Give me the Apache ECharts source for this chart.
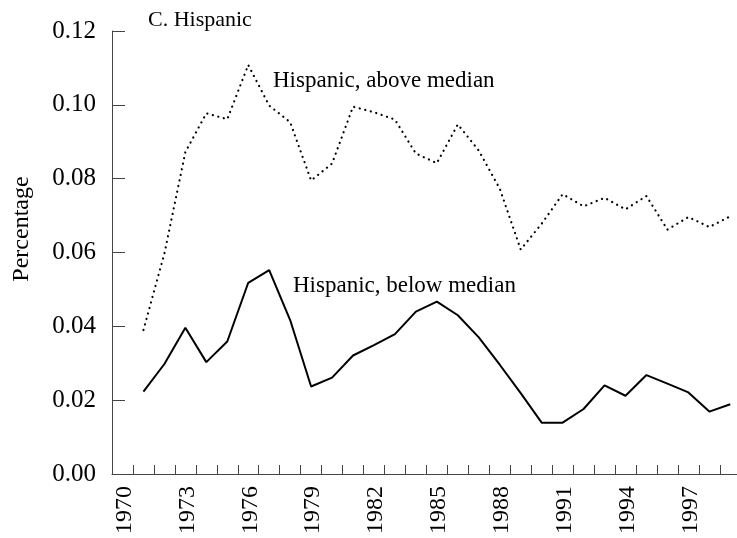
<!DOCTYPE html>
<html>
<head>
    <meta charset="utf-8">
    <title>C. Hispanic</title>
    <script src="https://cdn.jsdelivr.net/npm/echarts@6/dist/echarts.min.js"></script>
    <style>
        html, body { margin: 0; padding: 0; background: #fff; }
        #chart { width: 737px; height: 538px; }
    </style>
</head>
<body>
<div id="chart"></div>
<script type="text/javascript">
    // years (points sit in the middle of each year)
    var years = [1970, 1971, 1972, 1973, 1974, 1975, 1976, 1977, 1978, 1979,
                 1980, 1981, 1982, 1983, 1984, 1985, 1986, 1987, 1988, 1989,
                 1990, 1991, 1992, 1993, 1994, 1995, 1996, 1997, 1998];
    var aboveMedian = [0.0390, 0.0597, 0.0872, 0.0977, 0.0961, 0.1108, 0.0998, 0.0953, 0.0795, 0.0841,
                       0.0995, 0.0980, 0.0960, 0.0868, 0.0842, 0.0947, 0.0876, 0.0773, 0.0608, 0.0678,
                       0.0758, 0.0725, 0.0748, 0.0717, 0.0753, 0.0662, 0.0696, 0.0669, 0.0698];
    var belowMedian = [0.0223, 0.0298, 0.0396, 0.0303, 0.0359, 0.0518, 0.0552, 0.0417, 0.0237, 0.0261,
                       0.0321, 0.0349, 0.0379, 0.0440, 0.0467, 0.0430, 0.0370, 0.0296, 0.0219, 0.0139,
                       0.0139, 0.0176, 0.0240, 0.0212, 0.0268, 0.0245, 0.0221, 0.0169, 0.0189];
    var yearLabels = [1970, 1973, 1976, 1979, 1982, 1985, 1988, 1991, 1994, 1997];

    var serif = '"Liberation Serif", "DejaVu Serif", serif';

    function pairs(vals) {
        var out = [];
        for (var i = 0; i < years.length; i++) {
            out.push([years[i] + 0.5, vals[i]]);
        }
        return out;
    }

    var myChart = echarts.init(document.getElementById('chart'));

    myChart.setOption({
        animation: false,
        backgroundColor: '#fff',
        grid: { left: 112, top: 31, right: 0, bottom: 64 },
        xAxis: {
            type: 'value',
            min: 1969,
            max: 1998.82,
            interval: 1,
            splitLine: { show: false },
            axisLine: { lineStyle: { color: '#444', width: 1 } },
            axisTick: { inside: true, length: 9, lineStyle: { color: '#444', width: 1 } },
            axisLabel: {
                rotate: 90,
                margin: 12,
                color: '#000',
                fontFamily: serif,
                fontSize: 24,
                lineHeight: 17,
                verticalAlign: 'bottom',
                showMaxLabel: false,
                formatter: function (v) {
                    return yearLabels.indexOf(v) >= 0 ? String(v) : '';
                }
            }
        },
        yAxis: {
            type: 'value',
            min: 0,
            max: 0.12,
            interval: 0.02,
            splitLine: { show: false },
            axisLine: { show: true, lineStyle: { color: '#444', width: 1 } },
            axisTick: { show: true, inside: true, length: 13, lineStyle: { color: '#444', width: 1 } },
            axisLabel: {
                margin: 16,
                color: '#000',
                fontFamily: serif,
                fontSize: 25,
                formatter: function (v) { return v.toFixed(2); }
            }
        },
        graphic: [
            { type: 'text', x: 22, y: 229, rotation: Math.PI / 2,
              style: { text: 'Percentage', font: '24px ' + serif, fill: '#000', textAlign: 'center', textVerticalAlign: 'middle' } },
            { type: 'text', x: 148, y: 20,
              style: { text: 'C. Hispanic', font: '22px ' + serif, fill: '#000', textAlign: 'left', textVerticalAlign: 'middle' } },
            { type: 'text', x: 273, y: 81,
              style: { text: 'Hispanic, above median', font: '23px ' + serif, fill: '#000', textAlign: 'left', textVerticalAlign: 'middle' } },
            { type: 'text', x: 293, y: 286,
              style: { text: 'Hispanic, below median', font: '23px ' + serif, fill: '#000', textAlign: 'left', textVerticalAlign: 'middle' } }
        ],
        series: [
            {
                name: 'Hispanic, above median',
                type: 'line',
                data: pairs(aboveMedian),
                symbol: 'none',
                lineStyle: { color: '#000', width: 2.2, type: [0.1, 5.6], cap: 'round' }
            },
            {
                name: 'Hispanic, below median',
                type: 'line',
                data: pairs(belowMedian),
                symbol: 'none',
                lineStyle: { color: '#000', width: 2 }
            }
        ]
    });
</script>
</body>
</html>
